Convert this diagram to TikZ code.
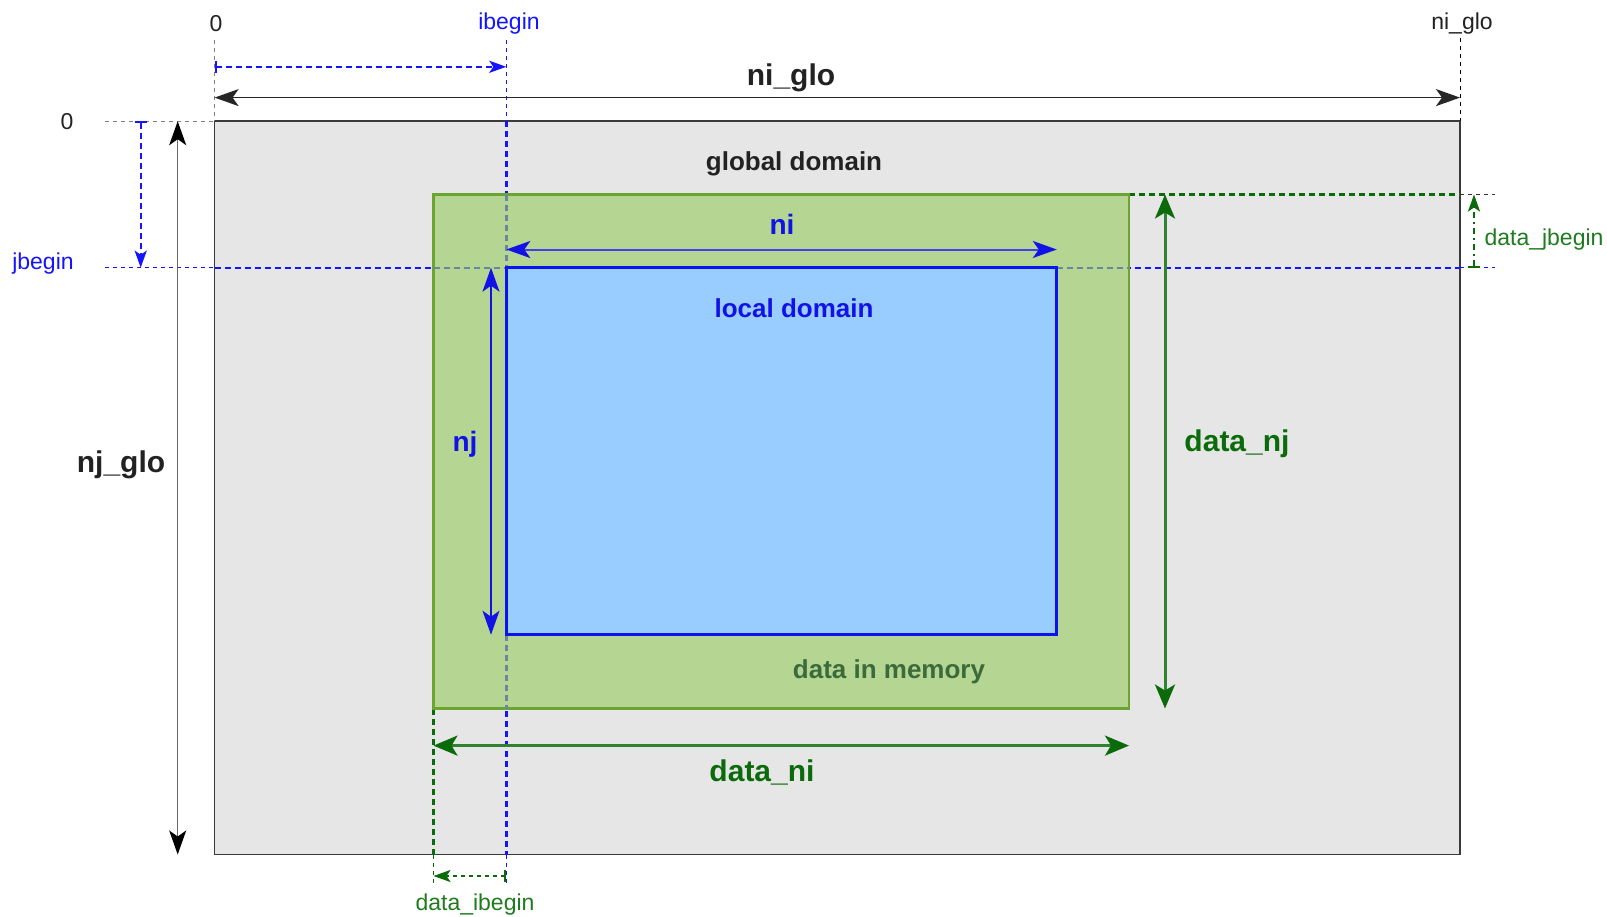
\documentclass[tikz,border=0pt]{standalone}
\usepackage{fontspec}
\setmainfont{Liberation Sans}
\usetikzlibrary{arrows.meta}
\definecolor{gfill}{HTML}{E6E6E6}
\definecolor{gline}{HTML}{3A3A3A}
\definecolor{dfill}{HTML}{B5D593}
\definecolor{dline}{HTML}{6AA532}
\definecolor{lfill}{HTML}{99CCFF}
\definecolor{lline}{HTML}{0A14F0}
\definecolor{myblue}{HTML}{1414FF}
\definecolor{boldblue}{HTML}{1212E6}
\definecolor{dkgreen}{HTML}{0B6B0B}
\definecolor{midgreen}{HTML}{1E7B1E}
\definecolor{memgreen}{HTML}{3B6B3B}
\definecolor{mixblue}{HTML}{6A86A0}
\definecolor{txtgray}{HTML}{222222}
\tikzset{
  bigtip/.tip={Stealth[length=12pt,width=8.5pt,inset=3pt]},
  greentip/.tip={Stealth[length=12pt,width=10pt,inset=3pt]},
  smalltip/.tip={Stealth[length=8.5pt,width=6pt,inset=2pt]},
  bartip/.tip={Bar[width=6pt,line width=1pt]},
  lbl/.style={inner sep=0pt, font=\fontsize{11.5pt}{13pt}\selectfont},
  midlbl/.style={inner sep=0pt, font=\fontsize{13pt}{15pt}\selectfont\bfseries},
  biglbl/.style={inner sep=0pt, font=\fontsize{15pt}{17pt}\selectfont\bfseries},
  thickdash/.style={line width=1.2pt, dash pattern=on 3pt off 2pt},
  thindot/.style={line width=0.5pt, dash pattern=on 2pt off 2pt},
}
\begin{document}
\begin{tikzpicture}[x=0.5pt,y=-0.5pt]
\useasboundingbox (0,0) rectangle (1607,916);
% main rectangles corners
\coordinate (G1) at (214.6,121.2);
\coordinate (G2) at (1460,854.5);
\coordinate (D1) at (433.5,194.5);
\coordinate (D2) at (1129,708.5);
\coordinate (L1) at (506.3,267.7);
\coordinate (L2) at (1056.8,634.7);
% guide ends
\coordinate (vTopG) at (214.6,40);
\coordinate (vTopN) at (1460,38);
\coordinate (vTopI) at (506.3,40);
\coordinate (vBotI) at (506.3,885);
\coordinate (vBotD) at (433.5,885);
\coordinate (hLeft0) at (105,121.2);
\coordinate (hLeftJ) at (105,267.7);
\coordinate (hRightJ) at (1495,267.7);
\coordinate (hRightD) at (1495,194.5);
% dimension ends
\coordinate (ibA) at (214.6,66.8);  \coordinate (ibB) at (506.3,66.8);
\coordinate (ngA) at (214.6,97.6);  \coordinate (ngB) at (1460,97.6);
\coordinate (jbA) at (140.7,121.2); \coordinate (jbB) at (140.7,267.7);
\coordinate (njgA) at (177.7,121.2); \coordinate (njgB) at (177.7,854.5);
\coordinate (niA) at (506.3,249.5); \coordinate (niB) at (1056.8,249.5);
\coordinate (njA) at (491,267.7);   \coordinate (njB) at (491,634.7);
\coordinate (dnjA) at (1165,194.5); \coordinate (dnjB) at (1165,708.5);
\coordinate (dniA) at (433.5,745.6); \coordinate (dniB) at (1129,745.6);
\coordinate (dibA) at (506.3,876);  \coordinate (dibB) at (433.5,876);
\coordinate (djbA) at (1474,267.7); \coordinate (djbB) at (1474,194.5);

% global domain
\draw[fill=gfill, draw=gline, line width=0.75pt] (G1) rectangle (G2);

% thin guides outside
\draw[thindot, gray] (vTopG) -- (G1);
\draw[thindot, black] (vTopN) -- (G2 |- G1);
\draw[thindot, gray] (hLeft0) -- (G1);
\draw[thindot, myblue] (hLeftJ) -- (G1 |- L1);
\draw[thindot, myblue] (vTopI) -- (L1 |- G1);
\draw[thindot, myblue] (L1 |- G2) -- (vBotI);
\draw[thindot, myblue] (G2 |- L1) -- (hRightJ);
\draw[thindot, black!80] (G2 |- D1) -- (hRightD);
\draw[thindot, dkgreen] (D1 |- G2) -- (vBotD);

% thick dashed guides inside the global domain
\draw[thickdash, myblue] (G1 |- L1) -- (G2 |- L1);
\draw[thickdash, myblue] (L1 |- G1) -- (L1 |- G2);
\draw[thickdash, dkgreen] (D2 |- D1) -- (G2 |- D1);
\draw[thickdash, dkgreen] (D1 |- D2) -- (D1 |- G2);

% data in memory
\draw[fill=dfill, draw=dline, line width=1.25pt] (D1) rectangle (D2);
\draw[thickdash, mixblue] (D1 |- L1) -- (L1);
\draw[thickdash, mixblue] (L2 |- L1) -- (D2 |- L1);
\draw[thickdash, mixblue] (L1 |- D1) -- (L1);
\draw[thickdash, mixblue] (L1 |- L2) -- (L1 |- D2);

% local domain
\draw[fill=lfill, draw=lline, line width=1.5pt] (L1) rectangle (L2);

% dimension arrows
\draw[line width=1.2pt, myblue, dash pattern=on 3pt off 2pt, {bartip}-{smalltip}] (ibA) -- (ibB);
\draw[line width=0.75pt, black!85, {bigtip}-{bigtip}] (ngA) -- (ngB);
\draw[line width=1.2pt, myblue, dash pattern=on 3pt off 2pt, {bartip}-{smalltip}] (jbA) -- (jbB);
\draw[line width=0.75pt, black!60, {bigtip[black]}-{bigtip[black]}] (njgA) -- (njgB);
\draw[line width=1pt, boldblue!80!white, {bigtip[boldblue]}-{bigtip[boldblue]}] (niA) -- (niB);
\draw[line width=0.75pt, boldblue, {bigtip}-{bigtip}] (njA) -- (njB);
\draw[line width=1.5pt, dkgreen!85!white, {greentip[dkgreen]}-{greentip[dkgreen]}] (dnjA) -- (dnjB);
\draw[line width=1.5pt, dkgreen!85!white, {greentip[dkgreen]}-{greentip[dkgreen]}] (dniA) -- (dniB);
\draw[line width=1.2pt, dkgreen, dash pattern=on 2pt off 2pt, {bartip}-{smalltip}] (dibA) -- (dibB);
\draw[line width=1.2pt, dkgreen, dash pattern=on 3pt off 2pt on 1pt off 2pt, {bartip}-{smalltip}] (djbA) -- (djbB);

% labels
\node[lbl, txtgray] (zeroTop) at (216,24) {0};
\node[lbl, myblue] (ibeginLbl) at (509,24) {ibegin};
\node[lbl, txtgray] (niGloTop) at (1462,24) {ni\_glo};
\node[lbl, txtgray] (zeroLeft) at (67,122) {0};
\node[lbl, myblue] (jbeginLbl) at (43,264) {jbegin};
\node[biglbl, txtgray] (niGloLbl) at (791,78) {ni\_glo};
\node[biglbl, txtgray] (njGloLbl) at (121,465) {nj\_glo};
\node[midlbl, txtgray] (globalLbl) at (794,164) {global domain};
\node[biglbl, boldblue, font=\fontsize{14pt}{16pt}\selectfont\bfseries] (niLbl) at (782,224) {ni};
\node[midlbl, boldblue] (localLbl) at (794,308) {local domain};
\node[biglbl, boldblue, font=\fontsize{14pt}{16pt}\selectfont\bfseries] (njLbl) at (465,444) {nj};
\node[biglbl, dkgreen] (dataNjLbl) at (1237,444) {data\_nj};
\node[midlbl, memgreen] (memLbl) at (889,672) {data in memory};
\node[biglbl, dkgreen] (dataNiLbl) at (762,772) {data\_ni};
\node[lbl, midgreen] (dataIbLbl) at (475,905) {data\_ibegin};
\node[lbl, midgreen] (dataJbLbl) at (1544,240) {data\_jbegin};
\end{tikzpicture}
\end{document}
